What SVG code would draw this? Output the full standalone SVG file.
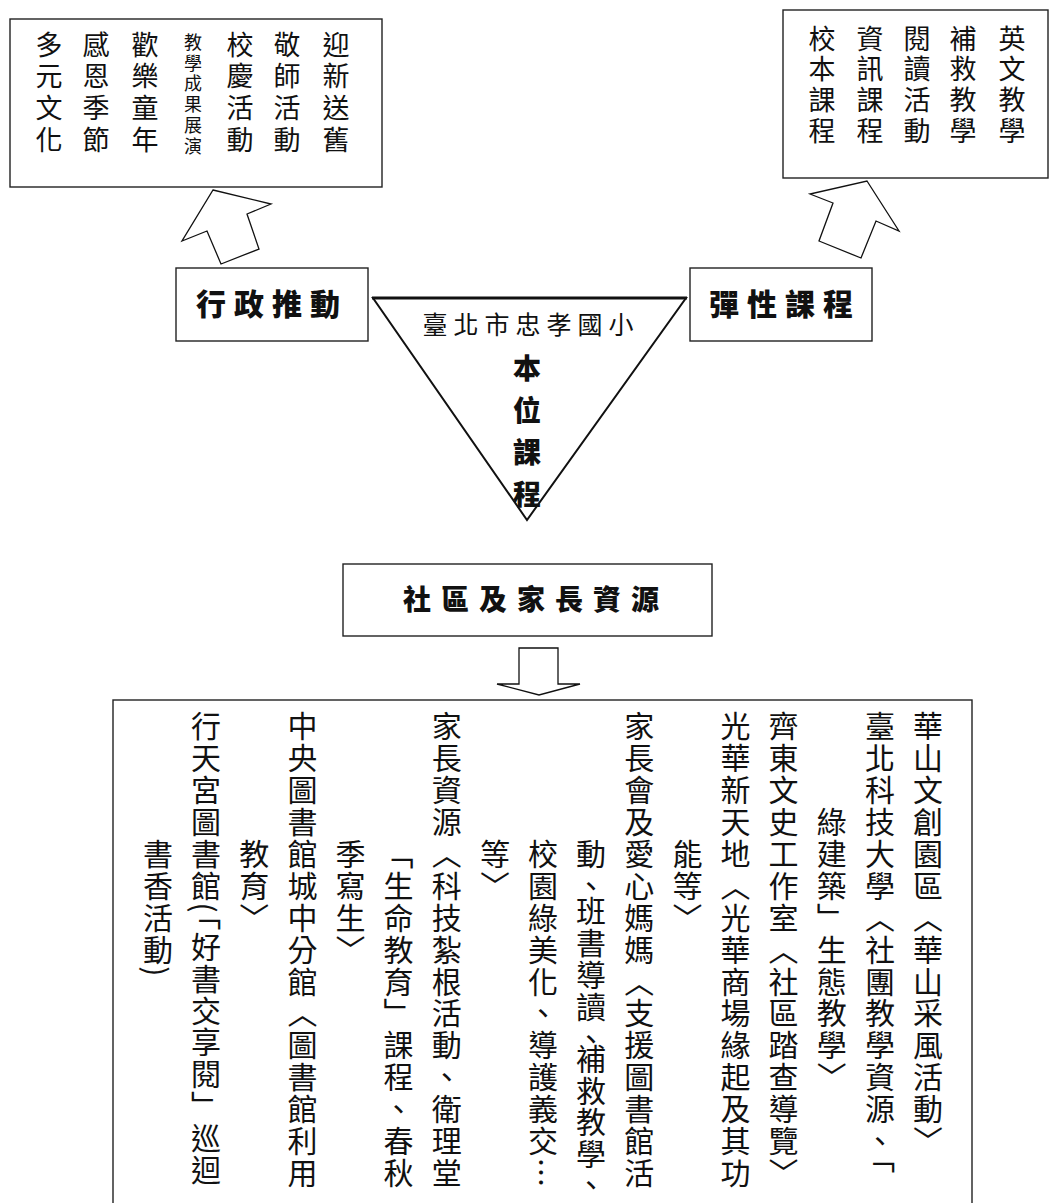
<svg xmlns="http://www.w3.org/2000/svg" width="1050" height="1203" viewBox="0 0 1050 1203">
<style>
.box{fill:#fff;stroke:#222;stroke-width:1.4}
.arr{fill:#fff;stroke:#111;stroke-width:1.3;stroke-linejoin:miter}
.v{writing-mode:vertical-rl;font-family:"Noto Sans CJK TC","Noto Sans CJK JP",sans-serif;fill:#111}
.big{font-size:27px;letter-spacing:4.6px}
.sm{font-size:18px;letter-spacing:2.8px}
.tr{font-size:27px;letter-spacing:3.7px}
.bt{font-size:30px;letter-spacing:1.9px}
.lbl{font-family:"Noto Sans CJK TC","Noto Sans CJK JP",sans-serif;font-weight:900;fill:#111;text-anchor:middle}
</style>
<rect width="1050" height="1203" fill="#fff"/>

<g id="activities">
<rect class="box" x="10" y="19" width="372" height="168"/>
<text class="v big" x="336" y="31">迎新送舊</text>
<text class="v big" x="287" y="31">敬師活動</text>
<text class="v big" x="240" y="31">校慶活動</text>
<text class="v sm" x="193" y="33">教學成果展演</text>
<text class="v big" x="145" y="31">歡樂童年</text>
<text class="v big" x="96" y="31">感恩季節</text>
<text class="v big" x="49" y="31">多元文化</text>
</g>

<g id="courses">
<rect class="box" x="783" y="10" width="265" height="168"/>
<text class="v tr" x="1012" y="25">英文教學</text>
<text class="v tr" x="963" y="25">補救教學</text>
<text class="v tr" x="917" y="25">閱讀活動</text>
<text class="v tr" x="870" y="25">資訊課程</text>
<text class="v tr" x="822" y="25">校本課程</text>
</g>

<g id="admin">
<rect class="box" x="176" y="268" width="192" height="73"/>
<text class="lbl" x="272" y="315" font-size="30" letter-spacing="8">行政推動</text>
</g>

<g id="flex">
<rect class="box" x="690" y="268" width="182" height="73"/>
<text class="lbl" x="785" y="315" font-size="30" letter-spacing="8">彈性課程</text>
</g>

<g id="core">
<polygon points="373,298 686,298 527,520" fill="#fff" stroke="#111" stroke-width="2"/>
<line x1="372" y1="298" x2="687" y2="298" stroke="#111" stroke-width="3"/>
<text x="531" y="334" font-family="Noto Sans CJK TC, sans-serif" font-size="25" letter-spacing="6" text-anchor="middle" fill="#111">臺北市忠孝國小</text>
<text class="v" x="527" y="354" font-size="28" font-weight="900" letter-spacing="14">本位課程</text>
</g>

<g id="community">
<rect class="box" x="343" y="564" width="369" height="72"/>
<text class="lbl" x="536" y="610" font-size="28" letter-spacing="10">社區及家長資源</text>
</g>

<g id="resources">
<rect class="box" x="113" y="700" width="859" height="520" stroke-width="1.6"/>
<text class="v bt" x="928" y="711">華山文創園區〈華山采風活動〉</text>
<text class="v bt" x="879.9" y="711">臺北科技大學〈社團教學資源、「</text>
<text class="v bt" x="831.8" y="806.7">綠建築」生態教學〉</text>
<text class="v bt" x="783.6" y="711">齊東文史工作室〈社區踏查導覽〉</text>
<text class="v bt" x="735.5" y="711">光華新天地〈光華商場緣起及其功</text>
<text class="v bt" x="687.4" y="838.6">能等〉</text>
<text class="v bt" x="639.3" y="711">家長會及愛心媽媽〈支援圖書館活</text>
<text class="v bt" x="591.1" y="838.6">動、</text>
<text class="v bt" x="591.1" y="896">班書導讀、</text>
<text class="v bt" x="591.1" y="1044" style="letter-spacing:1.4px">補救教學、</text>
<text class="v bt" x="543" y="838.6">校園綠美化、導護義交…</text>
<text class="v bt" x="494.9" y="838.6">等〉</text>
<text class="v bt" x="446.8" y="711">家長資源〈科技紮根活動、衛理堂</text>
<text class="v bt" x="398.6" y="838.6">「生命教育」課程、春秋</text>
<text class="v bt" x="350.5" y="838.6">季寫生〉</text>
<text class="v bt" x="302.4" y="711">中央圖書館城中分館〈圖書館利用</text>
<text class="v bt" x="254.3" y="838.6">教育〉</text>
<text class="v bt" x="206.1" y="711">行天宮圖書館(「好書交享閱」巡迴</text>
<text class="v bt" x="158" y="838.6">書香活動)</text>
</g>

<g id="connectors">
<polygon class="arr" points="213,190 271,204 247,214 259,249 221,264 207,231 182,241"/>
<polygon class="arr" points="867,181 899,231 876,221 861,258 819,241 833,203 810,194"/>
<polygon class="arr" points="519,648 558,648 558,684 580,684 539,695 497,684 519,684"/>
</g>
</svg>
